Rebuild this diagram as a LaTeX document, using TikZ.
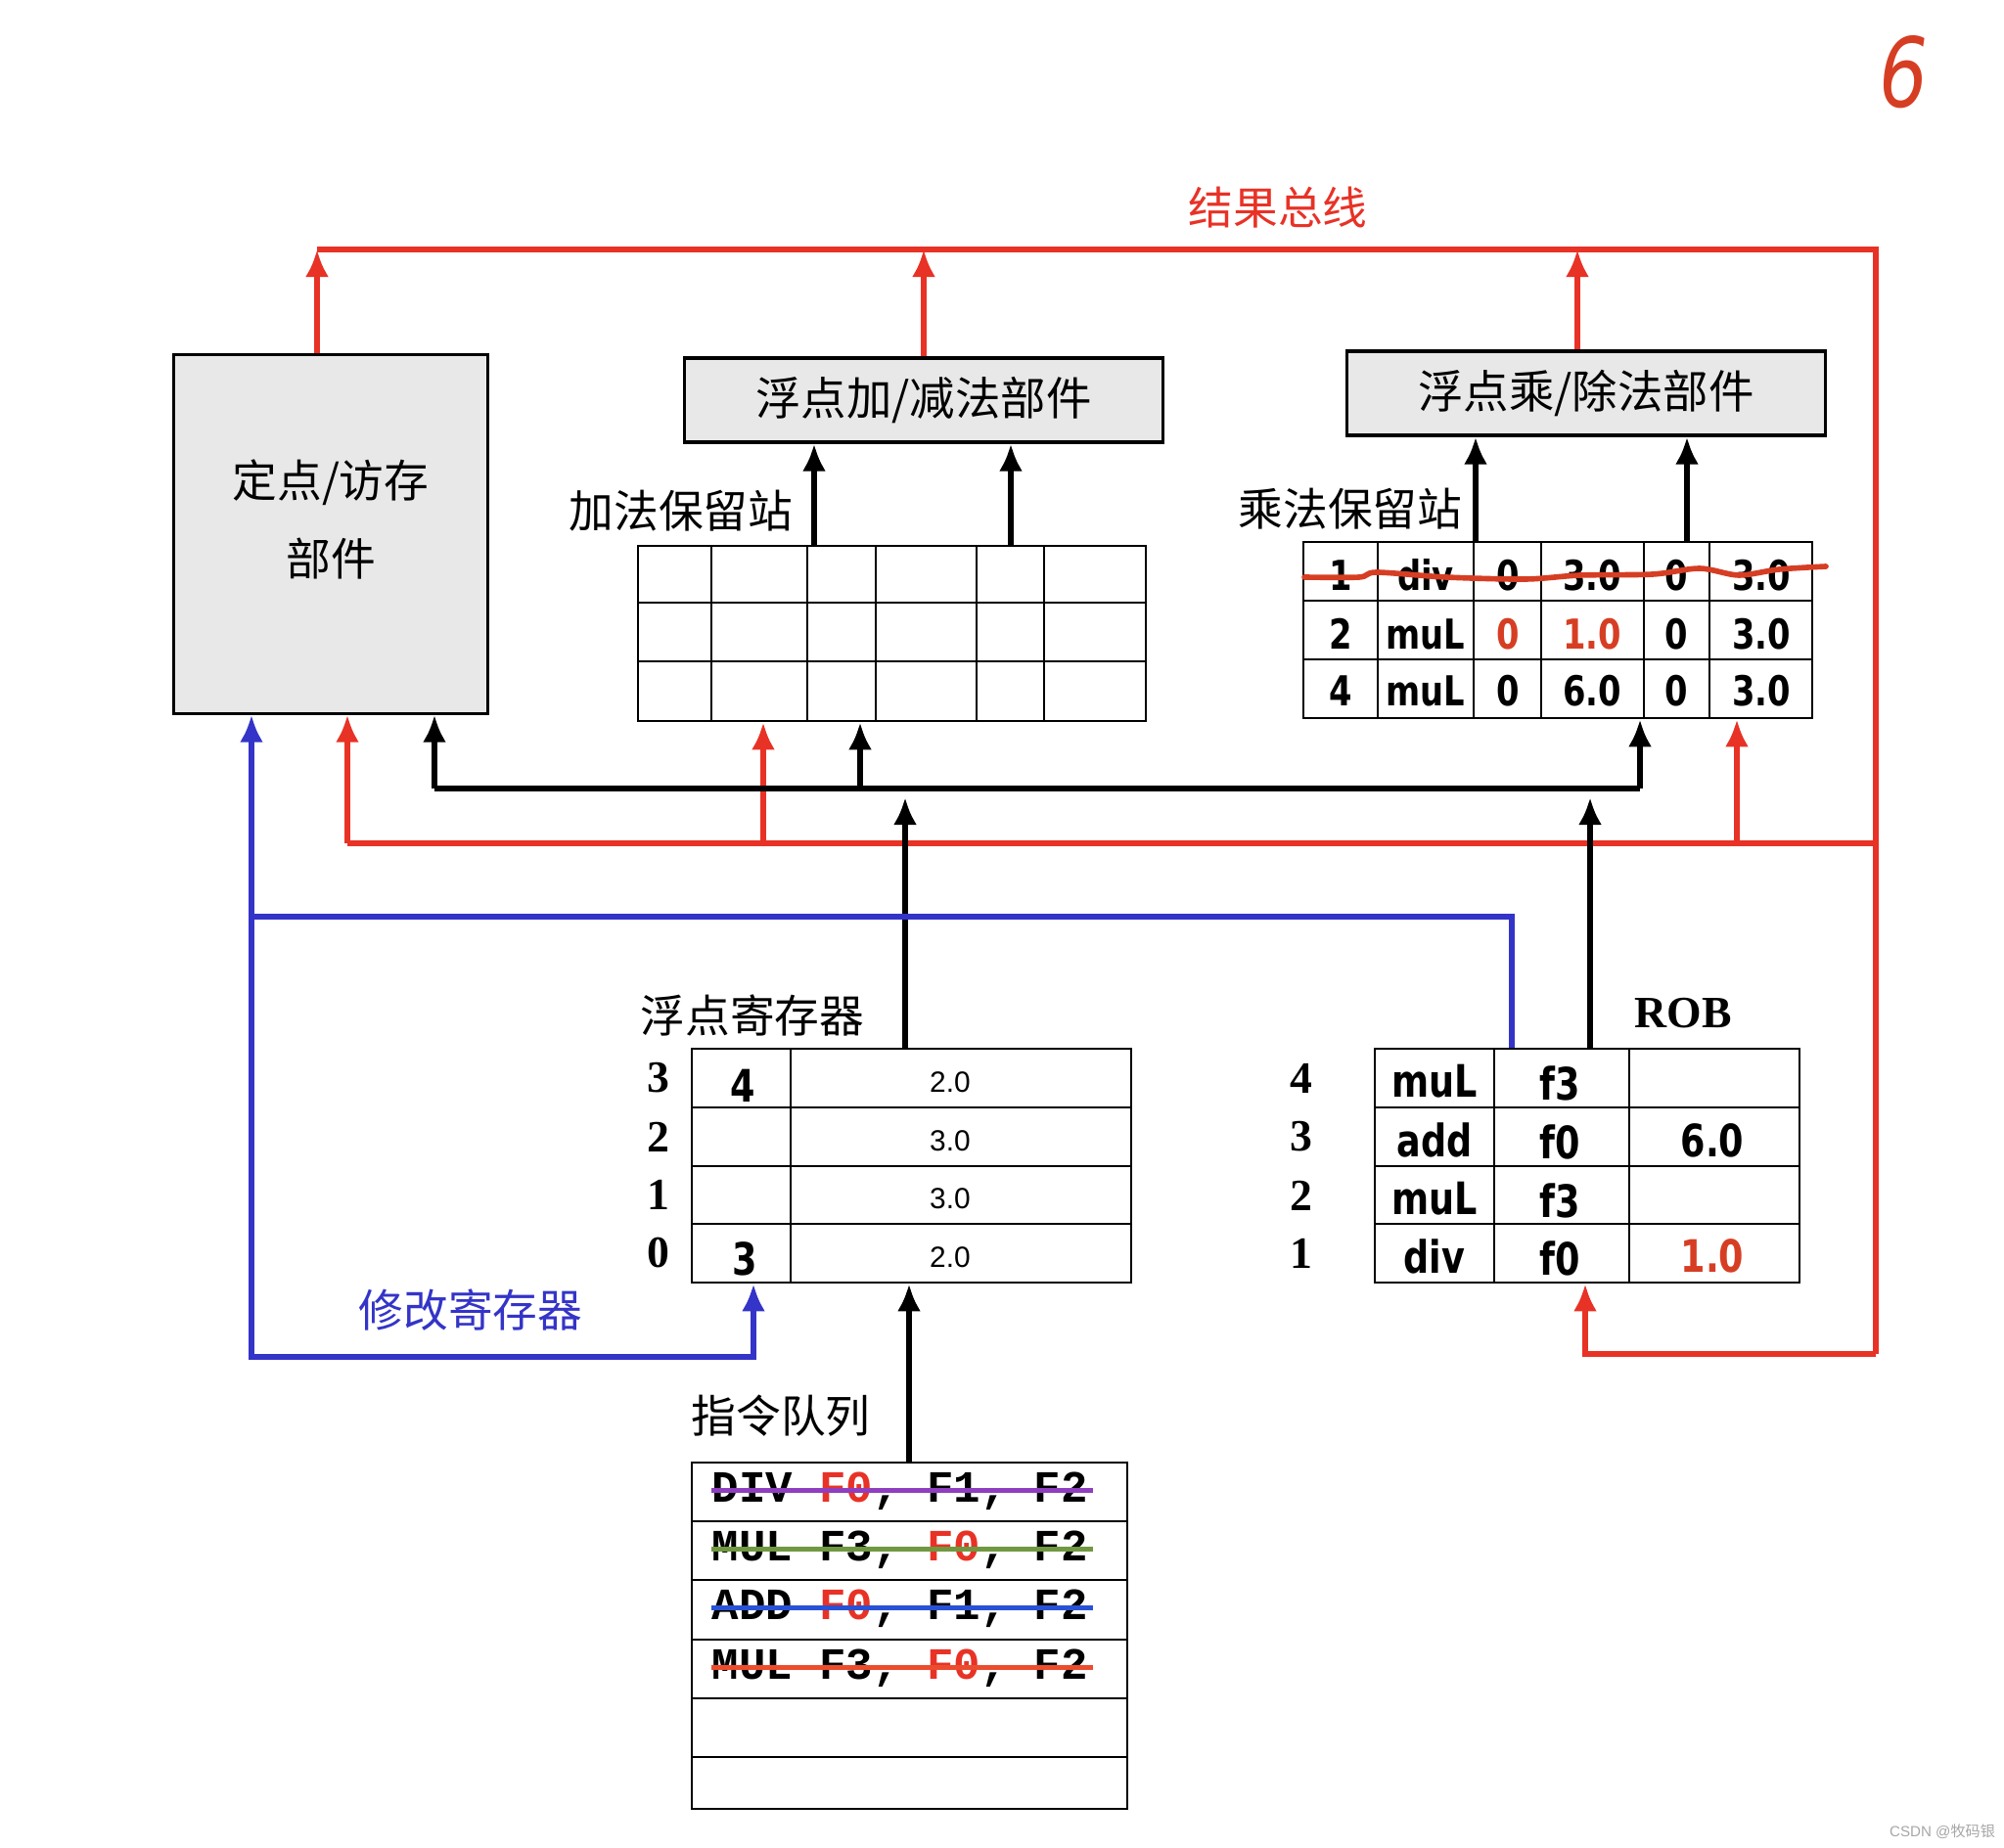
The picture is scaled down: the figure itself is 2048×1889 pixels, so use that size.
\documentclass[tikz,border=0pt]{standalone}
\usepackage{fontspec}
\setmainfont{Liberation Serif}
\newfontfamily\cjk{Noto Sans CJK SC}
\newfontfamily\hand{DejaVu Sans}[FakeStretch=0.8]
\newfontfamily\mono{Liberation Mono}
\newfontfamily\arial{Liberation Sans}
\usepackage{tikz}
\usetikzlibrary{
  % relative placement
  positioning,%
  calc,%
  arrows.meta
}
\definecolor{busred}{RGB}{232,50,38}
\definecolor{modblue}{RGB}{52,52,200}
\definecolor{handred}{RGB}{214,62,36}
\definecolor{unitgray}{RGB}{232,232,232}
\definecolor{strpurple}{RGB}{142,62,190}
\definecolor{strgreen}{RGB}{112,152,64}
\definecolor{strblue}{RGB}{40,82,214}
\definecolor{strred}{RGB}{236,76,46}
\tikzset{>={Latex[length=2.8mm,width=2.4mm]}}
\tikzset{
  unitbox/.style={draw, line width=0.9pt, fill=unitgray, inner sep=0pt},
  tblbox/.style={draw, line width=0.7pt, inner sep=0pt},
  tblline/.style={line width=0.7pt},
  bus/.style={line width=1.7pt},
  lbl/.style={font=\cjk\fontsize{13}{15}\selectfont, inner sep=0pt},
  hw/.style={font=\hand\bfseries\fontsize{12}{14}\selectfont, inner sep=0pt},
  regnum/.style={font=\bfseries\fontsize{13}{15}\selectfont, inner sep=0pt},
  regval/.style={font=\arial\fontsize{8.5}{10}\selectfont, inner sep=0pt},
  instr/.style={font=\mono\bfseries\fontsize{13}{15}\selectfont, inner sep=0pt, anchor=base west},
  strike/.style={line width=1.4pt},
}

\begin{document}
\begin{tikzpicture}[x=0.01cm, y=-0.01cm]
  \useasboundingbox (0,0) rectangle (2048,1889);

  % functional units
  \node[unitbox, minimum width=3.2cm, minimum height=3.66cm] (fixed) at (338,546) {};
  \node[lbl, align=center, font=\cjk\fontsize{13}{23}\selectfont] (fixedtxt) at (338,531) {定点/访存\\部件};
  \node[unitbox, minimum width=4.88cm, minimum height=0.86cm, font=\cjk\fontsize{13.2}{16}\selectfont] (addunit) at (944,409) {浮点加/减法部件};
  \node[unitbox, minimum width=4.88cm, minimum height=0.86cm, font=\cjk\fontsize{13.2}{16}\selectfont] (mulunit) at (1621,402) {浮点乘/除法部件};

  % add reservation station
  \node[tblbox, minimum width=5.19cm, minimum height=1.79cm] (addrs) at (911.5,647.5) {};
  \foreach \x in {727,825,895,998,1067} \draw[tblline] (\x,558) -- (\x,737);
  \foreach \y in {616,676} \draw[tblline] (652,\y) -- (1171,\y);
  \node[lbl] (addrslbl) at (696,522) {加法保留站};

  % mul reservation station
  \node[tblbox, minimum width=5.2cm, minimum height=1.8cm] (mulrs) at (1592,644) {};
  \foreach \x in {1408,1506,1575,1680,1747} \draw[tblline] (\x,554) -- (\x,734);
  \foreach \y in {614,674} \draw[tblline] (1332,\y) -- (1852,\y);
  \node[lbl] (mulrslbl) at (1380,520) {乘法保留站};
  \foreach \t/\x [count=\i] in {1/1370,div/1457,0/1541,3.0/1627,0/1713,3.0/1800}
    \node[hw] (mrsa\i) at (\x,588) {\t};
  \foreach \t/\x/\c [count=\i] in {2/1370/black,muL/1457/black,0/1541/handred,1.0/1627/handred,0/1713/black,3.0/1800/black}
    \node[hw, text=\c] (mrsb\i) at (\x,648) {\t};
  \foreach \t/\x [count=\i] in {4/1370,muL/1457,0/1541,6.0/1627,0/1713,3.0/1800}
    \node[hw] (mrsc\i) at (\x,706) {\t};
  \draw[handred, line width=1.6pt, line cap=round] plot[smooth] coordinates {(1333,590) (1389,590) (1407,585) (1478,590) (1559,592) (1615,588) (1689,587) (1737,581) (1777,588) (1818,582) (1866,579)};

  % floating point registers
  \node[tblbox, minimum width=4.49cm, minimum height=2.39cm] (fpreg) at (931.5,1191.5) {};
  \draw[tblline] (808,1072) -- (808,1311);
  \foreach \y in {1132,1192,1251} \draw[tblline] (707,\y) -- (1156,\y);
  \node[lbl] (fplbl) at (769,1038) {浮点寄存器};
  \foreach \n/\v/\y [count=\i] in {3/2.0/1102,2/3.0/1162,1/3.0/1221,0/2.0/1281} {
    \node[regnum] (fpn\i) at (673,\y) {\n};
    \node[regval] (fpv\i) at (971,\y+4) {\v};
  }
  \node[hw, font=\hand\bfseries\fontsize{13}{15}\selectfont] (fptag3) at (759,1110) {4};
  \node[hw, font=\hand\bfseries\fontsize{13}{15}\selectfont] (fptag0) at (761,1287) {3};

  % reorder buffer
  \node[tblbox, minimum width=4.34cm, minimum height=2.39cm] (rob) at (1622,1191.5) {};
  \foreach \x in {1527,1665} \draw[tblline] (\x,1072) -- (\x,1311);
  \foreach \y in {1132,1192,1251} \draw[tblline] (1405,\y) -- (1839,\y);
  \node[regnum] (roblbl) at (1720,1036) {ROB};
  \foreach \n/\op/\r/\y [count=\i] in {4/muL/f3/1102,3/add/f0/1162,2/muL/f3/1222,1/div/f0/1281} {
    \node[regnum] (robn\i) at (1330,\y) {\n};
    \node[hw, font=\hand\bfseries\fontsize{13}{15}\selectfont] (robop\i) at (1466,\y+3) {\op};
    \node[hw, font=\hand\bfseries\fontsize{13}{15}\selectfont] (robreg\i) at (1594,\y+5) {\r};
  }
  \node[hw, font=\hand\bfseries\fontsize{13}{15}\selectfont] (robval2) at (1750,1166) {6.0};
  \node[hw, font=\hand\bfseries\fontsize{13}{15}\selectfont, text=handred] (robval4) at (1750,1284) {1.0};

  % instruction queue
  \node[tblbox, minimum width=4.45cm, minimum height=3.54cm] (iq) at (929.5,1672) {};
  \foreach \y in {1555,1615,1676,1736,1796} \draw[tblline] (707,\y) -- (1152,\y);
  \node[lbl] (iqlbl) at (798,1447) {指令队列};
  \node[instr] (ins1) at (727,1535) {DIV~\textcolor{busred}{F0},~F1,~F2};
  \node[instr] (ins2) at (727,1595) {MUL~F3,~\textcolor{busred}{F0},~F2};
  \node[instr] (ins3) at (727,1655) {ADD~\textcolor{busred}{F0},~F1,~F2};
  \node[instr] (ins4) at (727,1716) {MUL~F3,~\textcolor{busred}{F0},~F2};
  \draw[strike, strpurple] (ins1.west) -- ++(390,0);
  \draw[strike, strgreen] (ins2.west) -- ++(390,0);
  \draw[strike, strblue] (ins3.west) -- ++(390,0);
  \draw[strike, strred] (ins4.west) -- ++(390,0);

  % result bus
  \coordinate (rbL) at (324,255);
  \coordinate (rbR) at (1917,255);
  \coordinate (rbB) at (1917,1384);
  \coordinate (rbM) at (1612,255);
  \coordinate (rbO) at (1620,0);
  \node[lbl, text=busred] (buslbl) at (1306,212) {结果总线};
  \draw[bus, busred] (rbL) -- (rbR) -- (rbB);
  \draw[bus, busred, ->] (rbB) -| (rob.south -| rbO);
  \draw[bus, busred, ->] (fixed.north -| rbL) -- (rbL);
  \draw[bus, busred, ->] (addunit.north) -- (addunit.north |- rbL);
  \draw[bus, busred, ->] (mulunit.north -| rbM) -- (rbM);
  % result forwarding to stations
  \coordinate (rlL) at (355,862);
  \coordinate (rlA) at (780,862);
  \coordinate (rlM) at (1775,862);
  \coordinate (rlR) at (1917,862);
  \draw[bus, busred] (rlL) -- (rlR);
  \draw[bus, busred, ->] (rlL) -- (fixed.south -| rlL);
  \draw[bus, busred, ->] (rlA) -- (addrs.south -| rlA);
  \draw[bus, busred, ->] (rlM) -- (mulrs.south -| rlM);

  % operand bus
  \coordinate (obL) at (444,806);
  \coordinate (obA) at (879,806);
  \coordinate (obR) at (1676,806);
  \coordinate (obF) at (925,815);
  \coordinate (obO) at (1625,815);
  \draw[bus] (obL) -- (obR);
  \draw[bus, ->] (obL) -- (fixed.south -| obL);
  \draw[bus, ->] (obA) -- (addrs.south -| obA);
  \draw[bus, ->] (obR) -- (mulrs.south -| obR);
  \draw[bus, ->] (fpreg.north -| obF) -- (obF);
  \draw[bus, ->] (rob.north -| obO) -- (obO);

  % stations to units
  \coordinate (xa1) at (832,0);
  \coordinate (xa2) at (1033,0);
  \coordinate (xm1) at (1508,0);
  \coordinate (xm2) at (1724,0);
  \draw[bus, ->] (addrs.north -| xa1) -- (addunit.south -| xa1);
  \draw[bus, ->] (addrs.north -| xa2) -- (addunit.south -| xa2);
  \draw[bus, ->] (mulrs.north -| xm1) -- (mulunit.south -| xm1);
  \draw[bus, ->] (mulrs.north -| xm2) -- (mulunit.south -| xm2);

  % instruction queue to registers
  \coordinate (xi) at (929,0);
  \draw[bus, ->] (iq.north -| xi) -- (fpreg.south -| xi);

  % register renaming
  \coordinate (bR) at (1545,937);
  \coordinate (bL) at (257,937);
  \coordinate (bB) at (257,1387);
  \coordinate (bT) at (770,0);
  \draw[bus, modblue, ->] (rob.north -| bR) -- (bR) -- (bL) -- (fixed.south -| bL);
  \draw[bus, modblue, ->] (bL) -- (bB) -| (fpreg.south -| bT);
  \node[lbl, text=modblue] (modlbl) at (481,1339) {修改寄存器};

  \node[font=\hand\itshape\fontsize{28}{30}\selectfont, text=handred] (pagenum) at (1946,74) {6};
  \node[font=\arial\fontsize{4.3}{5}\selectfont, text=gray!70] (mark) at (1985,1872) {CSDN @{\cjk 牧码银}};
\end{tikzpicture}
\end{document}
